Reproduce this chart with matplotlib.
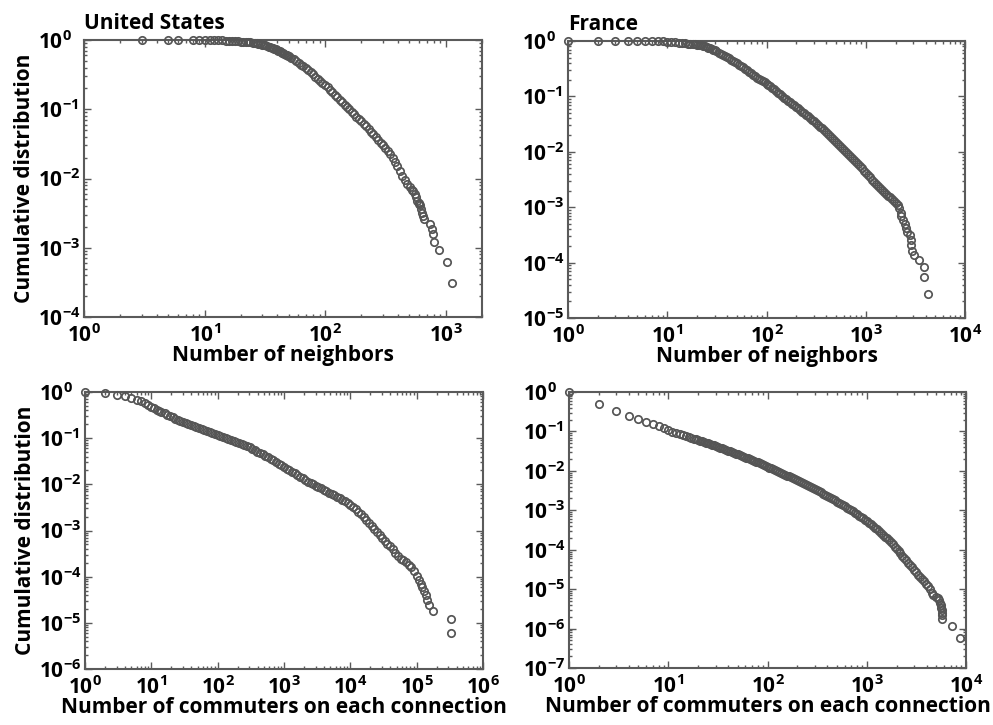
import numpy as np
import matplotlib
matplotlib.use("Agg")
import matplotlib.pyplot as plt
from matplotlib.ticker import FuncFormatter, LogLocator, NullFormatter

FONT = "Open Sans"
plt.rcParams['font.family'] = [FONT, 'DejaVu Sans']
plt.rcParams['font.weight'] = 'bold'
plt.rcParams['mathtext.fontset'] = 'custom'
plt.rcParams['mathtext.rm'] = FONT + ':bold'
plt.rcParams['mathtext.bf'] = FONT + ':bold'
plt.rcParams['mathtext.it'] = FONT + ':bold'

# ---------------- data ----------------
# United States, number of neighbors
us_nb_x = [3, 5, 6, 8, 9, 10, 11, 12, 13, 14, 15, 16, 17, 18, 19, 20, 21, 22, 23, 24, 25, 26, 27, 28, 29,
           30, 31, 32, 33, 34, 35, 36, 37, 38, 39, 40, 41, 42, 43, 44, 45, 46, 47, 48, 49,
           50, 52.5, 55, 57.5, 60.3, 63, 66, 69, 72, 76, 79, 83, 87, 91, 95, 100, 105, 110, 115, 120,
           126, 132, 138, 145, 151, 158, 166, 174, 182, 191, 200, 209, 219, 229, 240, 251, 263, 275,
           288, 302, 316, 331, 347, 363, 380, 398, 417, 437, 457, 479, 501, 525,
           540, 552, 563, 580, 595, 605, 616, 625, 630, 642, 655, 745, 767, 782, 803, 883, 1016, 1138]
us_nb_y = [1.0, 1.0, 1.0, 0.999, 0.998, 0.997, 0.995, 0.993, 0.99, 0.987, 0.983, 0.978, 0.972, 0.965, 0.958,
           0.95, 0.945, 0.938, 0.93, 0.922, 0.913, 0.904, 0.894, 0.883, 0.872,
           0.86, 0.85, 0.835, 0.82, 0.805, 0.79, 0.775, 0.76, 0.745, 0.73, 0.715, 0.70, 0.685, 0.67,
           0.655, 0.64, 0.627, 0.614, 0.601, 0.589,
           0.58, 0.552, 0.524, 0.495, 0.468, 0.442, 0.417, 0.394, 0.368, 0.343, 0.319, 0.297, 0.277,
           0.257, 0.24, 0.224, 0.207, 0.191, 0.176, 0.162,
           0.149, 0.137, 0.127, 0.117, 0.108, 0.1, 0.0923, 0.0851, 0.0785, 0.0724, 0.0667, 0.0614,
           0.0565, 0.0519, 0.0476, 0.0437, 0.0398, 0.0363,
           0.0331, 0.0302, 0.0275, 0.0248, 0.0224, 0.02, 0.0174, 0.0151, 0.0129, 0.011, 0.0095,
           0.0083, 0.0076, 0.0069,
           0.0067, 0.006, 0.0054, 0.0048, 0.0045, 0.0043, 0.0041, 0.0036, 0.0032, 0.0029, 0.0026,
           0.0022, 0.00187, 0.0016, 0.00123, 0.00093, 0.00062, 0.00031]

# France, number of neighbors
fr_nb_x = [1, 2, 3, 4, 5, 6, 7, 8, 9, 10, 11, 12, 13, 14, 15, 16, 17, 18, 19, 20, 21, 22, 23, 24, 25,
           26, 27, 28, 29, 30, 31,
           33.1, 34.7, 36.3, 38, 39.8, 41.7, 43.7, 45.7, 47.9, 50.1, 52.5, 55, 57.5, 60.3, 63.1, 66.1,
           69.2, 72.4, 75.9, 79.4, 83.2, 87.1, 91.2, 95.5, 100, 104.7, 109.6, 114.8, 120.2, 125.9,
           131.8, 138, 144.5, 151.4, 158.5, 166, 173.8, 182, 190.5, 199.5, 209, 218.8, 229, 240, 251,
           263, 275, 288, 302, 316, 331, 347, 363, 380, 398, 417, 437, 457, 479, 501, 525, 550, 575,
           603, 631, 661, 692, 724, 759, 794, 832, 871, 912, 955, 1000, 1047, 1096, 1148, 1202, 1259,
           1318, 1380, 1445, 1514, 1585, 1660, 1738, 1820, 1905, 1995, 2089, 2188,
           2250, 2290, 2380, 2480, 2560, 2630, 2790, 2830, 2870, 2920, 3090, 3460, 3860, 3880, 4240]
fr_nb_y = [1.0, 0.999, 0.998, 0.997, 0.995, 0.993, 0.99, 0.987, 0.983, 0.977, 0.965, 0.952, 0.938,
           0.925, 0.912, 0.9, 0.89, 0.88, 0.87, 0.861, 0.848, 0.833, 0.817, 0.797, 0.776,
           0.757, 0.738, 0.718, 0.698, 0.678, 0.658,
           0.617, 0.589, 0.562, 0.537, 0.513, 0.488, 0.463, 0.441, 0.419, 0.398, 0.375, 0.353, 0.333,
           0.313, 0.295, 0.278, 0.262, 0.247, 0.232, 0.219, 0.208, 0.198, 0.188, 0.179, 0.170, 0.160,
           0.151, 0.142, 0.134, 0.126, 0.117, 0.110, 0.102, 0.0955, 0.0891, 0.0836, 0.0783, 0.0735,
           0.0689, 0.0646, 0.0605, 0.0568, 0.0532, 0.0499, 0.0468, 0.0437, 0.0407, 0.038, 0.0355,
           0.0331, 0.0308, 0.0286, 0.0265, 0.0247, 0.0229, 0.0211, 0.0194, 0.0179, 0.0164, 0.0151,
           0.0139, 0.0128, 0.0118, 0.0109, 0.01, 0.0092, 0.00847, 0.0078, 0.00718, 0.0066, 0.00603,
           0.0055, 0.00501, 0.00457, 0.00417, 0.0038, 0.00347, 0.00316, 0.00288, 0.00263, 0.00242,
           0.00223, 0.00205, 0.00189, 0.00174, 0.00161, 0.0015, 0.00139, 0.00129, 0.0012, 0.0011,
           0.00095,
           0.0008, 0.00069, 0.00058, 0.00049, 0.00042, 0.00035, 0.00032, 0.00026, 0.00021, 0.00016,
           0.000135, 0.00011, 0.000082, 0.000055, 0.000027]

# United States, number of commuters on each connection
us_cm_x = [1, 2, 3, 4, 5, 6, 7, 8, 9, 10, 11, 12, 13, 14,
           15.8, 17.4, 19.1, 20.9, 22.9, 25.1, 27.5, 30.2, 33.1, 36.3, 39.8, 43.7, 47.9, 52.5, 57.5,
           63.1, 69.2, 75.9, 83.2, 91.2, 100, 109.6, 120.2, 131.8, 144.5, 158.5, 173.8, 190.5, 209,
           229, 251, 275, 302, 331, 363, 398, 437, 479, 525, 575, 631, 692, 759, 832, 912, 1000, 1096,
           1202, 1318, 1445, 1585, 1738, 1905, 2089, 2291, 2512, 2754, 3020, 3311, 3631, 3981, 4365,
           4786, 5248, 5754, 6310, 6918, 7586, 8318, 9120, 10000, 10965, 12023, 13183, 14454, 15849,
           17378, 19055, 20893, 22909, 25119, 27542, 30200, 33113, 36308, 39811, 43652, 47863, 52481,
           57544, 63096, 69183, 75858, 83176, 91201, 100000,
           109000, 115000, 122000, 129000, 137000, 145000, 154000, 179000, 326000, 332000]
us_cm_y = [1.0, 0.96, 0.85, 0.8, 0.74, 0.68, 0.625, 0.575, 0.525, 0.48, 0.445, 0.415, 0.39, 0.37,
           0.347, 0.324, 0.302, 0.282, 0.263, 0.245, 0.232, 0.219, 0.209, 0.2, 0.191, 0.182, 0.175,
           0.167, 0.160, 0.152, 0.145, 0.138, 0.132, 0.125, 0.119, 0.113, 0.108, 0.102, 0.0966,
           0.0916, 0.0871, 0.0826, 0.0783, 0.0741, 0.0705, 0.0668, 0.0631, 0.0589, 0.055, 0.0513,
           0.0479, 0.0447, 0.0417, 0.0389, 0.0359, 0.0331, 0.0302, 0.0279, 0.0257, 0.0237, 0.0219,
           0.0202, 0.0186, 0.0172, 0.0158, 0.0146, 0.0135, 0.0124, 0.0115, 0.0107, 0.01, 0.00933,
           0.00871, 0.00813, 0.00759, 0.00708, 0.00661, 0.00617, 0.00575, 0.00537, 0.00501, 0.00468,
           0.00437, 0.00403, 0.00363, 0.00324, 0.00292, 0.00257, 0.00226, 0.002, 0.0017, 0.00145,
           0.00126, 0.00107, 0.000923, 0.000794, 0.000676, 0.000589, 0.000513, 0.000452, 0.000394,
           0.000331, 0.000282, 0.000245, 0.000224, 0.000204, 0.00018, 0.000158, 0.000132, 0.000105,
           0.000085, 0.000071, 0.00006, 0.00005, 0.00004, 0.000031, 0.000024, 0.0000178, 0.000012,
           0.0000061]

# France, number of commuters on each connection
fr_cm_x = [1, 2, 3, 4, 5, 6, 7, 8, 9, 10, 11, 12, 13, 14, 15, 16, 17, 18, 19, 20,
           20.9, 21.9, 22.9, 24, 25.1, 26.3, 27.5, 28.8, 30.2, 31.6, 33.1, 34.7, 36.3, 38, 39.8, 41.7,
           43.7, 45.7, 47.9, 50.1, 52.5, 55, 57.5, 60.3, 63.1, 66.1, 69.2, 72.4, 75.9, 79.4, 83.2, 87.1,
           91.2, 95.5, 100, 104.7, 109.6, 114.8, 120.2, 125.9, 131.8, 138, 144.5, 151.4, 158.5, 166,
           173.8, 182, 190.5, 199.5, 209, 218.8, 229, 240, 251, 263, 275, 288, 302, 316, 331, 347, 363,
           380, 398, 417, 437, 457, 479, 501, 525, 550, 575, 603, 631, 661, 692, 724, 759, 794, 832,
           871, 912, 955, 1000, 1047, 1096, 1148, 1202, 1259, 1318, 1380, 1445, 1514, 1585, 1660, 1738,
           1820, 1905, 1995, 2089, 2188, 2291, 2399, 2512, 2630, 2754, 2884, 3020, 3162, 3311, 3467,
           3631, 3802, 3981, 4169, 4365,
           4500, 4700, 4990, 5200, 5370, 5500, 5580, 5650, 5710, 5760, 5790, 5790, 7150, 8740]
fr_cm_y = [1.0, 0.49, 0.33, 0.25, 0.205, 0.175, 0.15, 0.135, 0.119, 0.108, 0.099, 0.0912, 0.0847,
           0.0798, 0.0759, 0.0724, 0.0692, 0.0661, 0.0631, 0.0608,
           0.0586, 0.0564, 0.0542, 0.0521, 0.0501, 0.0481, 0.0461, 0.0443, 0.0425, 0.0407, 0.0391,
           0.0374, 0.0358, 0.0343, 0.0328, 0.0314, 0.0301, 0.0287, 0.0274, 0.0262, 0.025, 0.0239,
           0.0228, 0.0218, 0.0208, 0.0199, 0.0189, 0.018, 0.0172, 0.0164, 0.0156, 0.0149, 0.0141,
           0.0134, 0.0128, 0.0121, 0.0115, 0.011, 0.0104, 0.0099, 0.00942, 0.00893, 0.00847, 0.00804,
           0.00762, 0.00721, 0.00682, 0.00646, 0.00611, 0.00578, 0.00547, 0.00516, 0.00488, 0.0046,
           0.00435, 0.00409, 0.00385, 0.00363, 0.00342, 0.00321, 0.00302, 0.00283, 0.00265, 0.00249,
           0.00233, 0.00219, 0.00205, 0.00191, 0.00179, 0.00167, 0.00156, 0.00146, 0.00136, 0.00126,
           0.00117, 0.00109, 0.00101, 0.000933, 0.000863, 0.000798, 0.000736, 0.000679, 0.000625,
           0.000575, 0.000527, 0.000482, 0.00044, 0.0004, 0.000363, 0.000329, 0.000297, 0.000268,
           0.000241, 0.000216, 0.000193, 0.000172, 0.000153, 0.000136, 0.00012, 0.000106, 0.0000933,
           0.0000813, 0.0000708, 0.0000617, 0.0000537, 0.0000468, 0.0000407, 0.0000355, 0.0000309,
           0.0000269, 0.0000234, 0.0000204, 0.0000182, 0.0000158, 0.0000138, 0.0000117, 0.00001,
           0.0000082, 0.000007, 0.0000063, 0.0000058, 0.0000052, 0.0000045, 0.0000039, 0.0000034,
           0.0000029, 0.0000025, 0.0000022, 0.0000017, 0.00000116, 0.00000058]

titles = ["United States", "France", "", ""]
xlabels = ["Number of neighbors", "Number of neighbors",
           "Number of commuters on each connection", "Number of commuters on each connection"]
ylabel = "Cumulative distribution"
xlims = [(1, 2000), (1, 1e4), (1, 1e6), (1, 1e4)]
ylims = [(1e-4, 1), (1e-5, 1), (1e-6, 1), (1e-7, 1)]

# ---------------- layout ----------------
W, H = 993, 725
fig = plt.figure(figsize=(W / 100, H / 100), dpi=100)
boxes = [(84, 40, 482, 317), (568, 41, 965, 318), (85, 392, 483, 669), (569, 392, 966, 668)]
series = [(us_nb_x, us_nb_y), (fr_nb_x, fr_nb_y), (us_cm_x, us_cm_y), (fr_cm_x, fr_cm_y)]

SP = '#5a5a5a'
fmt = FuncFormatter(lambda v, p: r'$\mathbf{10^{%d}}$' % int(round(np.log10(v))))

for i, ((l, t, r, b), (xs, ys)) in enumerate(zip(boxes, series)):
    ax = fig.add_axes([l / W, 1 - b / H, (r - l) / W, (b - t) / H])
    ax.set_xscale('log')
    ax.set_yscale('log')
    ax.plot(xs, ys, linestyle='none', marker='o', markersize=5.3,
            markerfacecolor='none', markeredgecolor='#555555', markeredgewidth=1.25,
            clip_on=False, zorder=3)
    ax.set_xlim(*xlims[i])
    ax.set_ylim(*ylims[i])
    ax.xaxis.set_major_locator(LogLocator(base=10, numticks=20))
    ax.yaxis.set_major_locator(LogLocator(base=10, numticks=20))
    ax.xaxis.set_minor_locator(LogLocator(base=10, subs=np.arange(2, 10), numticks=20))
    ax.yaxis.set_minor_locator(LogLocator(base=10, subs=np.arange(2, 10), numticks=20))
    ax.xaxis.set_major_formatter(fmt)
    ax.yaxis.set_major_formatter(fmt)
    ax.xaxis.set_minor_formatter(NullFormatter())
    ax.yaxis.set_minor_formatter(NullFormatter())
    ax.tick_params(which='both', direction='in', top=True, right=True, color=SP, width=1.0)
    ax.tick_params(which='major', length=5, labelsize=15)
    ax.tick_params(which='minor', length=2.5)
    ax.tick_params(axis='x', which='major', pad=5)
    ax.tick_params(axis='y', which='major', pad=33)
    for lab in ax.get_yticklabels():
        lab.set_horizontalalignment('left')
    for s in ax.spines.values():
        s.set_color(SP)
        s.set_linewidth(1.5)
    ax.set_xlabel(xlabels[i], fontsize=15, fontweight='bold', labelpad=-1)
    if i % 2 == 0:
        ax.set_ylabel(ylabel, fontsize=15, fontweight='bold', labelpad=2)
    if titles[i]:
        ax.set_title(titles[i], loc='left', fontsize=15, fontweight='bold', pad=8)

fig.savefig('out.png', dpi=100)
